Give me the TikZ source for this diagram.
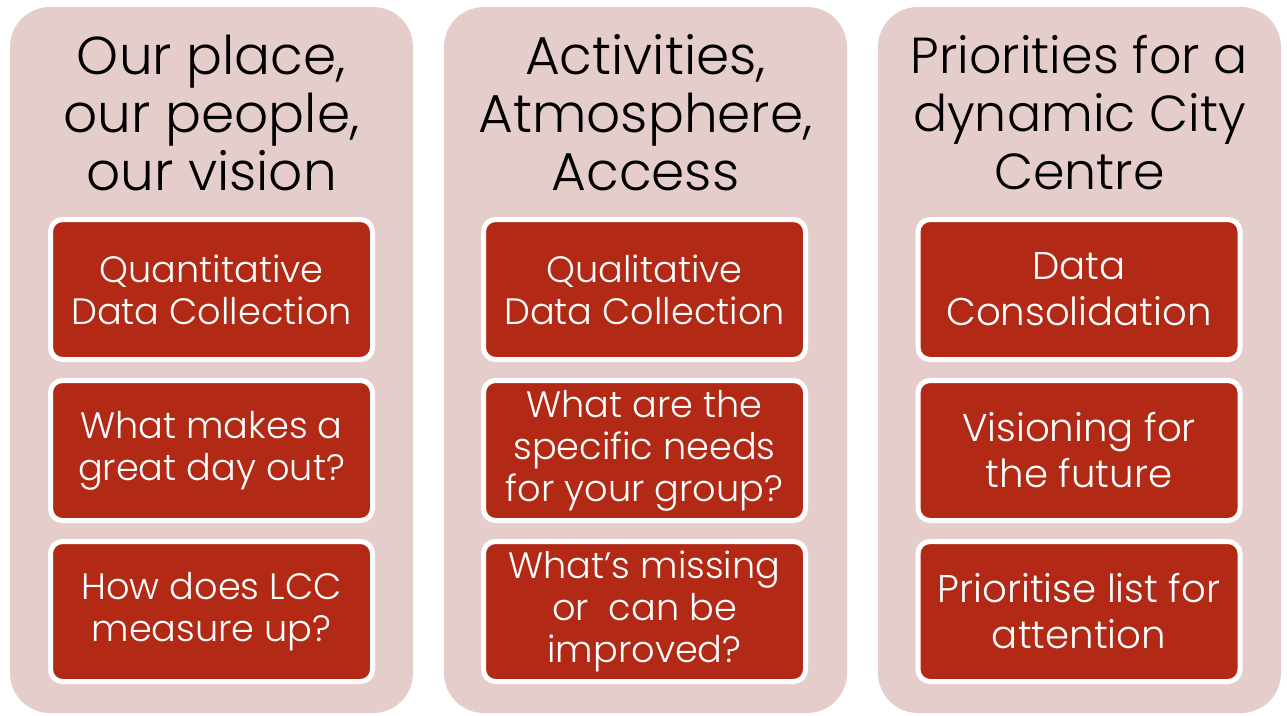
\documentclass[tikz,border=0pt]{standalone}
\usepackage{fontspec}
\setmainfont{Poppins}[UprightFont=* Light]
\definecolor{panelfill}{HTML}{E5CDCC}
\definecolor{boxred}{HTML}{B22A16}
\begin{document}
\begin{tikzpicture}[x=0.75pt,y=-0.75pt,
  panel/.style={draw=none,fill=panelfill,rounded corners=30pt,minimum width=403*0.75pt,minimum height=706*0.75pt,inner sep=0pt},
  ttl/.style={align=center,font=\fontsize{40}{43.5}\selectfont,text=black,inner sep=0pt},
  item/.style={draw=white,line width=3.75pt,fill=boxred,rounded corners=9pt,minimum width=322*0.75pt,minimum height=140*0.75pt,inner sep=0pt,align=center,text=white,font=\fontsize{27.5}{31.5}\selectfont},
  itemb/.style={item,font=\fontsize{29}{34.5}\selectfont}]
\useasboundingbox (0,0) rectangle (1287,715);
\fill[white] (0,0) rectangle (1287,715);
\node[panel] (p1) at (211.5,360) {};
\node[panel] (p2) at (645.5,360) {};
\node[panel] (p3) at (1079.5,360) {};
\node[ttl] (t1) at (211.5,113) {Our place,\\our people,\\our vision};
\node[ttl] (t2) at (645.5,113) {Activities,\\Atmosphere,\\Access};
\node[ttl,font=\fontsize{38}{43.5}\selectfont] (t3) at (1079.5,113) {Priorities for a\\dynamic City\\Centre};
\node[item] (a1) at (211.5,289.5) {Quantitative\\Data Collection};
\node[item] (a2) at (211.5,450.5) {What makes a\\great day out?};
\node[item] (a3) at (211.5,611.5) {How does LCC\\measure up?};
\node[item] (b1) at (644.5,289.5) {Qualitative\\Data Collection};
\node[item] (b2) at (644.5,450.5) {What are the\\specific needs\\for your group?};
\node[item] (b3) at (644.5,611.5) {What\symbol{39}s missing\\or\ \ can be\\improved?};
\node[itemb] (c1) at (1079,289.5) {Data\\Consolidation};
\node[itemb] (c2) at (1079,450.5) {Visioning for\\the future};
\node[itemb] (c3) at (1079,611.5) {Prioritise list for\\attention};
\end{tikzpicture}
\end{document}
